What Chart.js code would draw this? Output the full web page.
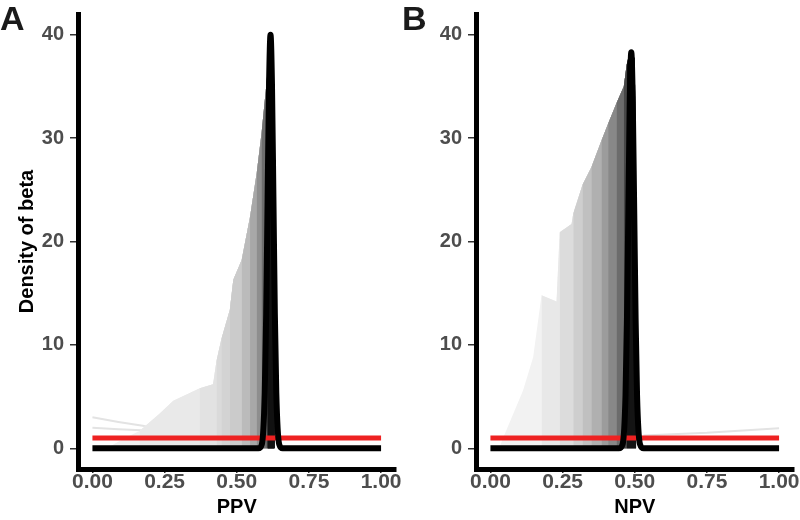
<!DOCTYPE html>
<html>
<head>
<meta charset="utf-8">
<script src="https://cdn.jsdelivr.net/npm/chart.js@4.4.1/dist/chart.umd.min.js"></script>
<style>
  body { margin: 0; background: #fff; }
  #wrap { position: relative; width: 800px; height: 520px; overflow: hidden;
          font-family: "Liberation Sans", Arial, sans-serif; }
  canvas { position: absolute; top: 0; }
  .tag { position: absolute; top: 2px; font-weight: bold; font-size: 34px; line-height: 33px; color: #1a1a1a; }
</style>
</head>
<body>
<div id="wrap">
  <canvas id="chartA" width="410" height="520" style="left:0"></canvas>
  <canvas id="chartB" width="402" height="520" style="left:398px"></canvas>
  <div class="tag" style="left:0">A</div>
  <div class="tag" style="left:402px">B</div>
</div>

<script>
// ---- data ----
const xTicks = [0, 0.25, 0.5, 0.75, 1];
const yTicks = [0, 10, 20, 30, 40];

// uniform prior (red)
const priorX = [0, 1];
const priorY = [1, 1];

// PPV: upper edge of the stacked grey densities, left side up to the peak
const ppvEdgeX = [0.05, 0.10, 0.164, 0.234, 0.28, 0.326, 0.372, 0.418, 0.43, 0.447, 0.476, 0.488, 0.517, 0.546, 0.569, 0.586, 0.603, 0.617];
const ppvEdgeY = [0, 0.8, 1.7, 3.4, 4.6, 5.2, 5.8, 6.2, 8.5, 10.6, 13.4, 16.3, 18.2, 22.4, 26.6, 30.5, 35.3, 40.0];
const ppvRightX = [0.622, 0.627, 0.629];
const ppvRightY = [37, 30, 0];
// where each successive (darker) density starts
const ppvLayerStart = [0.05, 0.164, 0.372, 0.43, 0.447, 0.476, 0.517, 0.546, 0.569, 0.586, 0.603];
// dark late densities near the peak
const ppvDarkX = [0.607, 0.599, 0.598, 0.625, 0.625, 0.641, 0.641, 0.632];
const ppvDarkY = [0, 12, 25.8, 25.8, 22.5, 22.5, 12, 0];
// early faint density lines
const ppvFaint1X = [0, 0.09, 0.18, 0.24];
const ppvFaint1Y = [3.0, 2.55, 2.15, 2.0];
const ppvFaint2X = [0, 0.09, 0.17, 0.24];
const ppvFaint2Y = [2.0, 1.85, 1.75, 1.7];
// final posterior (black)
const ppvPostX = [0, 0.575, 0.587, 0.597, 0.602, 0.607, 0.612, 0.617, 0.622, 0.627, 0.632, 0.637, 0.647, 0.659, 1];
const ppvPostY = [0, 0, 0.4, 5.4, 13, 24.3, 35.3, 40, 35.3, 24.3, 13, 5.4, 0.4, 0, 0];

// NPV
const npvEdgeX = [0.03, 0.05, 0.113, 0.148, 0.177, 0.229, 0.24, 0.281, 0.287, 0.319, 0.35, 0.385, 0.408, 0.437, 0.462, 0.472, 0.483];
const npvEdgeY = [0, 1.4, 5.6, 8.8, 14.8, 14.2, 20.9, 21.7, 22.7, 25.5, 27.2, 29.8, 31.4, 33.4, 35.0, 37.1, 38.4];
const npvRightX = [0.5, 0.503, 0.505];
const npvRightY = [37.7, 30, 0];
const npvLayerStart = [0.03, 0.177, 0.24, 0.287, 0.319, 0.35, 0.385, 0.408, 0.437, 0.462, 0.472];
const npvFaintX = [0.53, 0.75, 1.0];
const npvFaintY = [1.25, 1.5, 1.95];
const npvPostX = [0, 0.445, 0.458, 0.468, 0.473, 0.478, 0.483, 0.488, 0.493, 0.498, 0.503, 0.508, 0.518, 0.531, 1];
const npvPostY = [0, 0, 0.4, 5.1, 12.5, 23.3, 33.8, 38.3, 33.8, 23.3, 12.5, 5.1, 0.4, 0, 0];

// ---- styling ----
const ppvShades = ['#f0f0f0', '#e9e9e9', '#e2e2e2', '#dadada', '#d3d3d3', '#cbcbcb', '#bbbbbb', '#a8a8a8', '#8e8e8e', '#6e6e6e', '#484848'];
const npvShades = ['#f2f2f2', '#e8e8e8', '#dcdcdc', '#cecece', '#c0c0c0', '#b0b0b0', '#9c9c9c', '#888888', '#6c6c6c', '#484848', '#141414'];
const FONT = '"Liberation Sans", Arial, sans-serif';

function pts(xs, ys) {
  return xs.map((x, i) => ({ x: x, y: ys[i] }));
}

// each layer: vertical rise at its start, then the edge up to the peak and down again
function layerData(edgeX, edgeY, rightX, rightY, start) {
  const i = edgeX.indexOf(start);
  return [{ x: start, y: 0 }]
    .concat(pts(edgeX.slice(i), edgeY.slice(i)))
    .concat(pts(rightX, rightY));
}

function line(data, color, width, order, smooth) {
  return {
    data: data, borderColor: color, borderWidth: width, fill: false,
    pointRadius: 0, order: order, borderCapStyle: 'butt',
    cubicInterpolationMode: smooth ? 'monotone' : 'default', tension: 0
  };
}

function area(data, color, order) {
  return {
    data: data, borderWidth: 0, borderColor: color, backgroundColor: color,
    fill: 'origin', pointRadius: 0, order: order, tension: 0
  };
}

function buildDatasets(p) {
  const sets = [];
  p.faint.forEach(f => sets.push(line(f, '#e3e3e3', 2, 200, false)));
  p.starts.forEach((s, k) => {
    sets.push(area(layerData(p.edgeX, p.edgeY, p.rightX, p.rightY, s), p.shades[k], 100 - k));
  });
  if (p.dark) sets.push(area(p.dark, '#111111', 10));
  sets.push(line(pts(priorX, priorY), '#ee2222', 5, 2, false));
  sets.push(line(p.post, '#000000', 6, 1, true));
  return sets;
}

function options(xTitle, yTitle, rightPad) {
  return {
    responsive: false,
    animation: false,
    layout: { padding: { left: 0, right: rightPad, top: 14, bottom: 0 } },
    plugins: { legend: { display: false }, tooltip: { enabled: false } },
    scales: {
      x: {
        type: 'linear', min: -0.05, max: 1.05,
        afterBuildTicks: a => { a.ticks = xTicks.map(v => ({ value: v })); },
        afterFit: a => { a.height = 51; a.paddingLeft = 0; a.paddingRight = 0; },
        grid: { drawOnChartArea: false, drawTicks: true, tickLength: 4, color: '#333', lineWidth: 1.5 },
        border: { display: true, color: '#000', width: 5 },
        ticks: {
          color: '#4d4d4d', padding: -3, autoSkip: false, maxRotation: 0,
          font: { family: FONT, size: 21, weight: 'bold' },
          callback: v => Number(v).toFixed(2)
        },
        title: {
          display: true, text: xTitle, color: '#000',
          font: { family: FONT, size: 20, weight: 'bold' }, padding: { top: 0, bottom: 1 }
        }
      },
      y: {
        type: 'linear', min: -2, max: 42,
        afterBuildTicks: a => { a.ticks = yTicks.map(v => ({ value: v })); },
        afterFit: a => { a.width = 78; a.paddingTop = 0; a.paddingBottom = 0; },
        grid: { drawOnChartArea: false, drawTicks: true, tickLength: 8, color: '#333', lineWidth: 1.5 },
        border: { display: true, color: '#000', width: 5 },
        ticks: {
          color: '#4d4d4d', padding: 6,
          font: { family: FONT, size: 20, weight: 'bold' }
        },
        title: {
          display: !!yTitle, text: yTitle, color: '#000',
          font: { family: FONT, size: 20, weight: 'bold' }, padding: { top: 15, bottom: 0 }
        }
      }
    }
  };
}

new Chart(document.getElementById('chartA'), {
  type: 'line',
  data: {
    datasets: buildDatasets({
      edgeX: ppvEdgeX, edgeY: ppvEdgeY, rightX: ppvRightX, rightY: ppvRightY,
      starts: ppvLayerStart, shades: ppvShades,
      dark: pts(ppvDarkX, ppvDarkY),
      faint: [pts(ppvFaint1X, ppvFaint1Y), pts(ppvFaint2X, ppvFaint2Y)],
      post: pts(ppvPostX, ppvPostY)
    })
  },
  options: options('PPV', 'Density of beta', 14.5)
});

new Chart(document.getElementById('chartB'), {
  type: 'line',
  data: {
    datasets: buildDatasets({
      edgeX: npvEdgeX, edgeY: npvEdgeY, rightX: npvRightX, rightY: npvRightY,
      starts: npvLayerStart, shades: npvShades,
      dark: null,
      faint: [pts(npvFaintX, npvFaintY)],
      post: pts(npvPostX, npvPostY)
    })
  },
  options: options('NPV', '', 6.5)
});
</script>
</body>
</html>
